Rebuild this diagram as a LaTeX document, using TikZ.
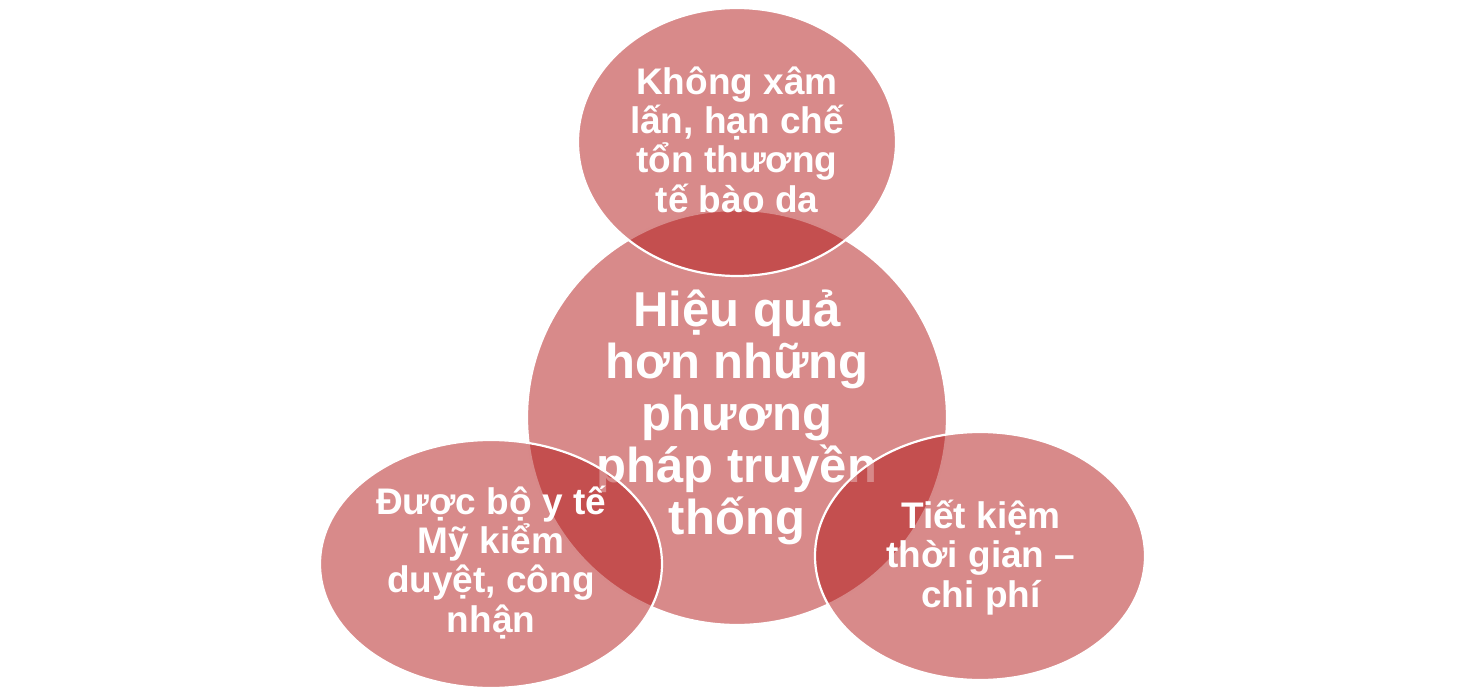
\documentclass[tikz,border=0pt]{standalone}
\usepackage{fontspec}
\setmainfont{Liberation Sans}
\usetikzlibrary{shapes.geometric}
\definecolor{vred}{RGB}{177,21,21}
\tikzset{
  bubble/.style={ellipse, draw=white, line width=2.2pt, fill=vred, fill opacity=0.5, inner sep=0pt},
  smalltxt/.style={text=white, align=center, anchor=base, inner sep=0pt, font=\bfseries\fontsize{37}{39.3}\selectfont},
  bigtxt/.style={text=white, align=center, anchor=base, inner sep=0pt, font=\bfseries\fontsize{49}{52}\selectfont}
}
\begin{document}
\begin{tikzpicture}[x=1pt,y=-1pt]
\useasboundingbox (0,0) rectangle (1468,690);
% centre
\node[bubble, minimum width=420pt, minimum height=415pt] (c) at (737,417.5) {};
\node[bigtxt] (ct) at (737,534) {Hiệu quả\\hơn những\\phương\\pháp truyền\\thống};
% top
\node[bubble, minimum width=318pt, minimum height=268pt] (t) at (737,142) {};
\node[smalltxt] (tt) at (737,212) {Không xâm\\lấn, hạn chế\\tổn thương\\tế bào da};
% bottom left
\node[bubble, minimum width=342pt, minimum height=248pt] (l) at (491,564) {};
\node[smalltxt] (lt) at (491,632) {Được bộ y tế\\Mỹ kiểm\\duyệt, công\\nhận};
% bottom right
\node[bubble, minimum width=330pt, minimum height=248pt] (r) at (980,556) {};
\node[smalltxt] (rt) at (981,607) {Tiết kiệm\\thời gian –\\chi phí};
\end{tikzpicture}
\end{document}
